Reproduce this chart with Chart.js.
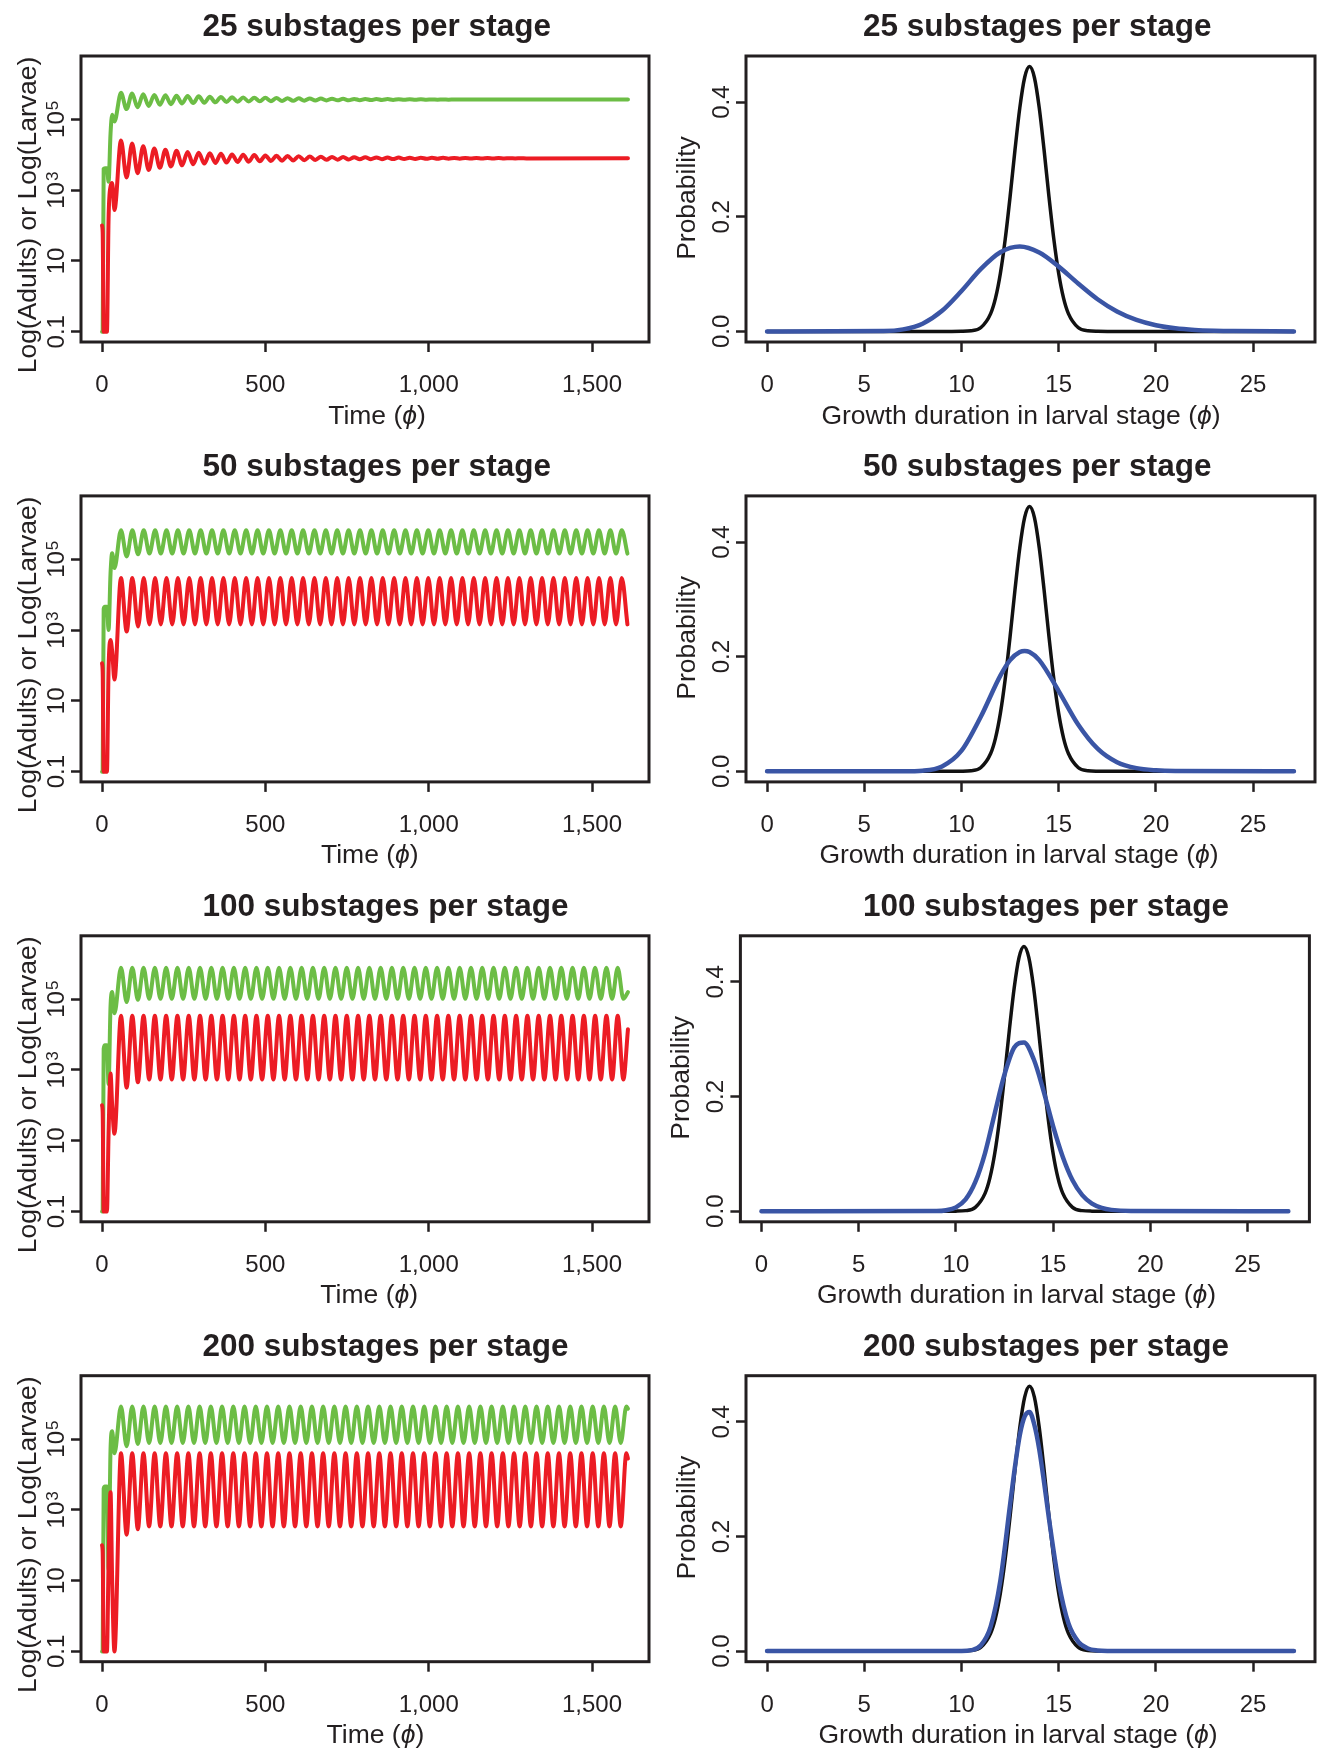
<!DOCTYPE html>
<html lang="en">
<head>
<meta charset="utf-8">
<title>Larval growth substages</title>
<script src="https://cdn.jsdelivr.net/npm/chart.js@4.4.1/dist/chart.umd.min.js"></script>
<style>
  html, body { margin: 0; padding: 0; background: #ffffff; }
  #figure { position: relative; width: 1319px; height: 1754px; overflow: hidden; background: #ffffff; }
  #figure canvas { position: absolute; }
</style>
</head>
<body>
<div id="figure"></div>
<script>
// ---------- Population dynamics: log10 of counts over time ----------
// 25 substages per stage
const time25 = [0, 2, 5, 9, 15, 20, 26, 31, 38,
  58, 75, 92, 109, 126, 143, 160, 177, 194, 211,
  228, 245, 262, 279, 296, 313, 330, 347, 364, 381,
  398, 415, 432, 449, 466, 483, 500, 517, 534, 551,
  568, 585, 602, 619, 636, 653, 670, 687, 704, 721,
  738, 755, 772, 789, 806, 823, 840, 857, 874, 891,
  908, 925, 942, 959, 976, 993, 1010, 1027, 1044, 1061,
  1078, 1095, 1112, 1129, 1146, 1163, 1180, 1197, 1214, 1231,
  1248, 1265, 1282, 1299,
  1610];
const larvae25 = [-1, -1, 3.6, 3.62, 3.62, 3.24, 4.6, 5.13, 4.94,
  5.75, 5.29, 5.73, 5.34, 5.71, 5.38, 5.69, 5.41, 5.68, 5.43,
  5.67, 5.45, 5.66, 5.46, 5.65, 5.47, 5.64, 5.48, 5.632, 5.49,
  5.625, 5.498, 5.618, 5.505, 5.612, 5.51, 5.607, 5.515, 5.602, 5.52,
  5.598, 5.524, 5.594, 5.528, 5.59, 5.532, 5.587, 5.535, 5.584, 5.538,
  5.581, 5.54, 5.578, 5.543, 5.576, 5.545, 5.574, 5.547, 5.572, 5.549,
  5.57, 5.551, 5.568, 5.553, 5.566, 5.555, 5.564, 5.556, 5.563, 5.557,
  5.562, 5.558, 5.561, 5.559, 5.561, 5.559, 5.56, 5.56, 5.56, 5.56,
  5.56, 5.56, 5.56, 5.56,
  5.56];
const adults25 = [2.0, 1.8, -1, -1, -1, 2.2, 3.1, 3.2, 2.44,
  4.40, 3.36, 4.32, 3.48, 4.24, 3.57, 4.18, 3.63, 4.14, 3.67,
  4.11, 3.70, 4.08, 3.73, 4.06, 3.75, 4.04, 3.77, 4.025, 3.78,
  4.01, 3.795, 4.0, 3.805, 3.99, 3.815, 3.98, 3.824, 3.972, 3.832,
  3.964, 3.84, 3.957, 3.846, 3.951, 3.852, 3.945, 3.857, 3.94, 3.862,
  3.936, 3.866, 3.932, 3.87, 3.928, 3.873, 3.925, 3.876, 3.922, 3.879,
  3.92, 3.881, 3.918, 3.883, 3.916, 3.885, 3.914, 3.887, 3.912, 3.889,
  3.91, 3.89, 3.909, 3.892, 3.908, 3.893, 3.906, 3.894, 3.905, 3.895,
  3.904, 3.896, 3.903, 3.897,
  3.9];

// 50 substages per stage
const time50 = [0, 2, 5, 9, 15, 20, 26, 31, 38,
  58.0, 75.4, 92.8, 110.3, 127.7, 145.1, 162.5, 179.9, 197.4, 214.8,
  232.2, 249.6, 267.0, 284.5, 301.9, 319.3, 336.7, 354.1, 371.6, 389.0,
  406.4, 423.8, 441.2, 458.7, 476.1, 493.5, 510.9, 528.3, 545.8, 563.2,
  580.6, 598.0, 615.4, 632.9, 650.3, 667.7, 685.1, 702.5, 720.0, 737.4,
  754.8, 772.2, 789.6, 807.1, 824.5, 841.9, 859.3, 876.7, 894.2, 911.6,
  929.0, 946.4, 963.8, 981.3, 998.7, 1016.1, 1033.5, 1050.9, 1068.4, 1085.8,
  1103.2, 1120.6, 1138.0, 1155.5, 1172.9, 1190.3, 1207.7, 1225.1, 1242.6, 1260.0,
  1277.4, 1294.8, 1312.2, 1329.7, 1347.1, 1364.5, 1381.9, 1399.3, 1416.8, 1434.2,
  1451.6, 1469.0, 1486.4, 1503.9, 1521.3, 1538.7, 1556.1, 1573.5, 1591.0, 1608.4];
const larvae50 = [-1, -1, 3.6, 3.66, 3.66, 3.0, 4.6, 5.17, 4.75,
  5.82, 5.08, 5.82, 5.14, 5.82, 5.16, 5.82, 5.16, 5.82, 5.16,
  5.82, 5.16, 5.82, 5.16, 5.82, 5.16, 5.82, 5.16, 5.82, 5.16,
  5.82, 5.16, 5.82, 5.16, 5.82, 5.16, 5.82, 5.16, 5.82, 5.16,
  5.82, 5.16, 5.82, 5.16, 5.82, 5.16, 5.82, 5.16, 5.82, 5.16,
  5.82, 5.16, 5.82, 5.16, 5.82, 5.16, 5.82, 5.16, 5.82, 5.16,
  5.82, 5.16, 5.82, 5.16, 5.82, 5.16, 5.82, 5.16, 5.82, 5.16,
  5.82, 5.16, 5.82, 5.16, 5.82, 5.16, 5.82, 5.16, 5.82, 5.16,
  5.82, 5.16, 5.82, 5.16, 5.82, 5.16, 5.82, 5.16, 5.82, 5.16,
  5.82, 5.16, 5.82, 5.16, 5.82, 5.16, 5.82, 5.16, 5.82, 5.16];
const adults50 = [2.06, 1.8, -1, -1, -1, 1.9, 2.72, 2.4, 1.6,
  4.47, 2.96, 4.47, 3.10, 4.47, 3.16, 4.47, 3.16, 4.47, 3.16,
  4.47, 3.16, 4.47, 3.16, 4.47, 3.16, 4.47, 3.16, 4.47, 3.16,
  4.47, 3.16, 4.47, 3.16, 4.47, 3.16, 4.47, 3.16, 4.47, 3.16,
  4.47, 3.16, 4.47, 3.16, 4.47, 3.16, 4.47, 3.16, 4.47, 3.16,
  4.47, 3.16, 4.47, 3.16, 4.47, 3.16, 4.47, 3.16, 4.47, 3.16,
  4.47, 3.16, 4.47, 3.16, 4.47, 3.16, 4.47, 3.16, 4.47, 3.16,
  4.47, 3.16, 4.47, 3.16, 4.47, 3.16, 4.47, 3.16, 4.47, 3.16,
  4.47, 3.16, 4.47, 3.16, 4.47, 3.16, 4.47, 3.16, 4.47, 3.16,
  4.47, 3.16, 4.47, 3.16, 4.47, 3.16, 4.47, 3.16, 4.47, 3.16];

// 100 substages per stage
const time100 = [0, 2, 5, 9, 15, 20, 26, 31, 38,
  58.0, 75.3, 92.6, 109.8, 127.1, 144.4, 161.7, 179.0, 196.2, 213.5,
  230.8, 248.1, 265.4, 282.6, 299.9, 317.2, 334.5, 351.8, 369.0, 386.3,
  403.6, 420.9, 438.2, 455.4, 472.7, 490.0, 507.3, 524.6, 541.8, 559.1,
  576.4, 593.7, 611.0, 628.2, 645.5, 662.8, 680.1, 697.4, 714.6, 731.9,
  749.2, 766.5, 783.8, 801.0, 818.3, 835.6, 852.9, 870.2, 887.4, 904.7,
  922.0, 939.3, 956.6, 973.8, 991.1, 1008.4, 1025.7, 1043.0, 1060.2, 1077.5,
  1094.8, 1112.1, 1129.4, 1146.6, 1163.9, 1181.2, 1198.5, 1215.8, 1233.0, 1250.3,
  1267.6, 1284.9, 1302.2, 1319.4, 1336.7, 1354.0, 1371.3, 1388.6, 1405.8, 1423.1,
  1440.4, 1457.7, 1475.0, 1492.2, 1509.5, 1526.8, 1544.1, 1561.4, 1578.6, 1595.9,
  1610];
const larvae100 = [-1, -1, 3.6, 3.7, 3.7, 2.6, 4.8, 5.2, 4.6,
  5.89, 4.92, 5.89, 4.98, 5.89, 5.01, 5.89, 5.01, 5.89, 5.01,
  5.89, 5.01, 5.89, 5.01, 5.89, 5.01, 5.89, 5.01, 5.89, 5.01,
  5.89, 5.01, 5.89, 5.01, 5.89, 5.01, 5.89, 5.01, 5.89, 5.01,
  5.89, 5.01, 5.89, 5.01, 5.89, 5.01, 5.89, 5.01, 5.89, 5.01,
  5.89, 5.01, 5.89, 5.01, 5.89, 5.01, 5.89, 5.01, 5.89, 5.01,
  5.89, 5.01, 5.89, 5.01, 5.89, 5.01, 5.89, 5.01, 5.89, 5.01,
  5.89, 5.01, 5.89, 5.01, 5.89, 5.01, 5.89, 5.01, 5.89, 5.01,
  5.89, 5.01, 5.89, 5.01, 5.89, 5.01, 5.89, 5.01, 5.89, 5.01,
  5.89, 5.01, 5.89, 5.01, 5.89, 5.01, 5.89, 5.01, 5.89, 5.01,
  5.2];
const adults100 = [2.0, 1.8, -1, -1, -1, 1.2, 2.9, 2.0, 1.2,
  4.53, 2.5, 4.53, 2.65, 4.53, 2.73, 4.53, 2.73, 4.53, 2.73,
  4.53, 2.73, 4.53, 2.73, 4.53, 2.73, 4.53, 2.73, 4.53, 2.73,
  4.53, 2.73, 4.53, 2.73, 4.53, 2.73, 4.53, 2.73, 4.53, 2.73,
  4.53, 2.73, 4.53, 2.73, 4.53, 2.73, 4.53, 2.73, 4.53, 2.73,
  4.53, 2.73, 4.53, 2.73, 4.53, 2.73, 4.53, 2.73, 4.53, 2.73,
  4.53, 2.73, 4.53, 2.73, 4.53, 2.73, 4.53, 2.73, 4.53, 2.73,
  4.53, 2.73, 4.53, 2.73, 4.53, 2.73, 4.53, 2.73, 4.53, 2.73,
  4.53, 2.73, 4.53, 2.73, 4.53, 2.73, 4.53, 2.73, 4.53, 2.73,
  4.53, 2.73, 4.53, 2.73, 4.53, 2.73, 4.53, 2.73, 4.53, 2.73,
  4.15];

// 200 substages per stage
const time200 = [0, 2, 5, 9, 15, 20, 26, 31, 38,
  58.0, 75.2, 92.4, 109.6, 126.8, 144.0, 161.1, 178.3, 195.5, 212.7,
  229.9, 247.1, 264.3, 281.5, 298.7, 315.9, 333.0, 350.2, 367.4, 384.6,
  401.8, 419.0, 436.2, 453.4, 470.6, 487.8, 504.9, 522.1, 539.3, 556.5,
  573.7, 590.9, 608.1, 625.3, 642.5, 659.7, 676.8, 694.0, 711.2, 728.4,
  745.6, 762.8, 780.0, 797.2, 814.4, 831.6, 848.7, 865.9, 883.1, 900.3,
  917.5, 934.7, 951.9, 969.1, 986.3, 1003.5, 1020.6, 1037.8, 1055.0, 1072.2,
  1089.4, 1106.6, 1123.8, 1141.0, 1158.2, 1175.4, 1192.5, 1209.7, 1226.9, 1244.1,
  1261.3, 1278.5, 1295.7, 1312.9, 1330.1, 1347.3, 1364.4, 1381.6, 1398.8, 1416.0,
  1433.2, 1450.4, 1467.6, 1484.8, 1502.0, 1519.2, 1536.3, 1553.5, 1570.7, 1587.9,
  1605.1, 1610];
const larvae200 = [-1, -1, 3.6, 3.66, 3.66, 1.3, 4.7, 5.22, 4.6,
  5.92, 4.8, 5.92, 4.86, 5.92, 4.89, 5.92, 4.89, 5.92, 4.89,
  5.92, 4.89, 5.92, 4.89, 5.92, 4.89, 5.92, 4.89, 5.92, 4.89,
  5.92, 4.89, 5.92, 4.89, 5.92, 4.89, 5.92, 4.89, 5.92, 4.89,
  5.92, 4.89, 5.92, 4.89, 5.92, 4.89, 5.92, 4.89, 5.92, 4.89,
  5.92, 4.89, 5.92, 4.89, 5.92, 4.89, 5.92, 4.89, 5.92, 4.89,
  5.92, 4.89, 5.92, 4.89, 5.92, 4.89, 5.92, 4.89, 5.92, 4.89,
  5.92, 4.89, 5.92, 4.89, 5.92, 4.89, 5.92, 4.89, 5.92, 4.89,
  5.92, 4.89, 5.92, 4.89, 5.92, 4.89, 5.92, 4.89, 5.92, 4.89,
  5.92, 4.89, 5.92, 4.89, 5.92, 4.89, 5.92, 4.89, 5.92, 4.89,
  5.92, 5.86];
const adults200 = [2.0, 1.8, -1, -1, -1, 1.5, 3.5, 1.0, -1,
  4.60, 2.3, 4.60, 2.45, 4.60, 2.53, 4.60, 2.53, 4.60, 2.53,
  4.60, 2.53, 4.60, 2.53, 4.60, 2.53, 4.60, 2.53, 4.60, 2.53,
  4.60, 2.53, 4.60, 2.53, 4.60, 2.53, 4.60, 2.53, 4.60, 2.53,
  4.60, 2.53, 4.60, 2.53, 4.60, 2.53, 4.60, 2.53, 4.60, 2.53,
  4.60, 2.53, 4.60, 2.53, 4.60, 2.53, 4.60, 2.53, 4.60, 2.53,
  4.60, 2.53, 4.60, 2.53, 4.60, 2.53, 4.60, 2.53, 4.60, 2.53,
  4.60, 2.53, 4.60, 2.53, 4.60, 2.53, 4.60, 2.53, 4.60, 2.53,
  4.60, 2.53, 4.60, 2.53, 4.60, 2.53, 4.60, 2.53, 4.60, 2.53,
  4.60, 2.53, 4.60, 2.53, 4.60, 2.53, 4.60, 2.53, 4.60, 2.53,
  4.60, 4.45];

// ---------- Growth duration distributions ----------
// target distribution (black), identical in every panel
const targetX = [0, 9.5, 10, 10.5, 11, 11.5, 11.75, 12, 12.25, 12.5, 12.75, 13, 13.25, 13.5,
  13.75, 14, 14.25, 14.5, 14.75, 15, 15.25, 15.5, 16, 16.5, 17, 17.5, 27.1];
const targetP = [0, 0, 0.0001, 0.001, 0.0067, 0.031, 0.058, 0.101, 0.161, 0.235, 0.316, 0.390, 0.443, 0.462,
  0.443, 0.390, 0.316, 0.235, 0.161, 0.101, 0.058, 0.031, 0.0067, 0.001, 0.0001, 0, 0];

// model distributions (blue)
const dur25X = [0, 6, 7, 8, 9, 10, 11, 12, 13, 14, 15, 16, 17, 18, 19, 20, 21, 22, 23, 24, 27.1];
const dur25P = [0, 0.0006, 0.0035, 0.0135, 0.0359, 0.0705, 0.109, 0.138, 0.148, 0.1375, 0.113, 0.0835,
  0.0561, 0.0347, 0.020, 0.0108, 0.0054, 0.0026, 0.0012, 0.0005, 0];
const dur50X = [0, 7, 8, 9, 10, 11, 12, 12.5, 13, 13.25, 13.5, 14, 15, 16, 17, 18, 19, 20, 21, 27.1];
const dur50P = [0, 0.0001, 0.0011, 0.0085, 0.036, 0.0957, 0.167, 0.194, 0.208, 0.210, 0.208, 0.194, 0.140,
  0.0817, 0.0395, 0.0159, 0.0055, 0.0017, 0.0005, 0];
const dur100X = [0, 9, 9.5, 10, 10.5, 11, 11.5, 12, 12.5, 13, 13.5, 14, 14.5, 15, 15.5, 16, 16.5, 17, 17.5, 18, 19, 27.1];
const dur100P = [0, 0.0003, 0.0017, 0.0067, 0.0205, 0.051, 0.1015, 0.171, 0.2385, 0.2855, 0.2945, 0.2655, 0.211,
  0.1485, 0.0947, 0.054, 0.028, 0.0132, 0.0058, 0.0023, 0.0003, 0];
const dur200X = [0, 10, 10.5, 11, 11.5, 12, 12.5, 12.75, 13, 13.25, 13.5, 13.75, 14, 14.25, 14.5, 15, 15.5, 16, 16.5, 17, 17.5, 27.1];
const dur200P = [0, 0.0002, 0.0016, 0.0101, 0.0426, 0.123, 0.2555, 0.3215, 0.377, 0.4095, 0.417, 0.3945, 0.352, 0.294,
  0.231, 0.12, 0.0485, 0.0167, 0.0046, 0.001, 0.0002, 0];

// ---------- Axis ticks and labels ----------
const timeTicks = [0, 500, 1000, 1500];
const timeTickLabels = ['0', '500', '1,000', '1,500'];
const logTicks = [-1, 1, 3, 5];
const logTickLabels = ['0.1', '10', '10^3', '10^5'];
const durTicks = [0, 5, 10, 15, 20, 25];
const durTickLabels = ['0', '5', '10', '15', '20', '25'];
const probTicks = [0, 0.2, 0.4];
const probTickLabels = ['0.0', '0.2', '0.4'];

const substages = [25, 50, 100, 200];
const timeAxisTitle = ['Time (', '\u03D5', ')'];
const durAxisTitle = ['Growth duration in larval stage (', '\u03D5', ')'];
const popAxisTitle = ['Log(Adults) or Log(Larvae)'];
const probAxisTitle = ['Probability'];

// ---------- Styling ----------
const INK = '#231f20';
const GREEN = '#6cbd45';
const RED = '#ec1c24';
const BLUE = '#3a55a5';
const BLACK = '#111111';
const FONT = '"Liberation Sans", Arial, Helvetica, sans-serif';
const ROW = 439.9;

function pts(xs, ys) { return xs.map((x, i) => ({ x: x, y: ys[i] })); }

// text made of runs; odd-indexed runs are italic symbols
function drawRuns(ctx, runs, x, y, rotated, size) {
  ctx.save();
  ctx.translate(x, y);
  if (rotated) ctx.rotate(-Math.PI / 2);
  const fonts = runs.map((_, i) => (i % 2 ? 'italic ' : '') + size + 'px ' + FONT);
  const widths = runs.map((r, i) => { ctx.font = fonts[i]; return ctx.measureText(r).width; });
  let cx = -widths.reduce((a, b) => a + b, 0) / 2;
  ctx.textAlign = 'left';
  ctx.textBaseline = 'alphabetic';
  runs.forEach((r, i) => { ctx.font = fonts[i]; ctx.fillText(r, cx, 0); cx += widths[i]; });
  ctx.restore();
}

// vertical tick label, optionally with a power of ten
function drawTickLabel(ctx, label, x, y) {
  const parts = label.split('^');
  ctx.save();
  ctx.translate(x, y);
  ctx.rotate(-Math.PI / 2);
  ctx.textAlign = 'left';
  ctx.textBaseline = 'alphabetic';
  ctx.font = '24px ' + FONT;
  const wb = ctx.measureText(parts[0]).width;
  let ws = 0;
  if (parts[1]) { ctx.font = '17px ' + FONT; ws = ctx.measureText(parts[1]).width + 1; }
  const start = -(wb + ws) / 2;
  ctx.font = '24px ' + FONT;
  ctx.fillText(parts[0], start, 8.6);
  if (parts[1]) { ctx.font = '17px ' + FONT; ctx.fillText(parts[1], start + wb + 1, 2.5); }
  ctx.restore();
}

const panelDecor = {
  id: 'panelDecor',
  afterDraw(chart, args, o) {
    const ctx = chart.ctx;
    const a = chart.chartArea;
    ctx.save();
    ctx.strokeStyle = INK;
    ctx.lineWidth = 3;
    ctx.strokeRect(a.left, a.top, a.right - a.left, a.bottom - a.top);
    ctx.fillStyle = INK;
    ctx.font = 'bold 31.5px ' + FONT;
    ctx.textAlign = 'left';
    ctx.textBaseline = 'alphabetic';
    ctx.fillText(o.title, o.titleX, o.titleY);
    const ys = chart.scales.y;
    o.yTicks.forEach((v, i) => drawTickLabel(ctx, o.yLabels[i], o.yLabelX, ys.getPixelForValue(v)));
    drawRuns(ctx, o.xTitle, o.xTitleX, o.xTitleY, false, 26.5);
    drawRuns(ctx, o.yTitle, o.yTitleX, o.yTitleY, true, 26.5);
    ctx.restore();
  }
};

const fig = document.getElementById('figure');

function axisCommon() {
  return {
    grid: { display: true, drawOnChartArea: false, drawTicks: true, tickLength: 10, tickWidth: 2.5, tickColor: INK, color: INK },
    border: { display: false }
  };
}

const popSeries = {
  25: [time25, larvae25, adults25],
  50: [time50, larvae50, adults50],
  100: [time100, larvae100, adults100],
  200: [time200, larvae200, adults200]
};
const durSeries = {
  25: [dur25X, dur25P],
  50: [dur50X, dur50P],
  100: [dur100X, dur100P],
  200: [dur200X, dur200P]
};

function buildPanel(row, col) {
  const off = row * ROW;
  const cell = { x: col ? 660 : 0, y: Math.round(off), w: col ? 659 : 660 };
  cell.h = row < 3 ? 440 : 1754 - cell.y;
  const shift = (col === 1 && row === 2) ? -5.6 : 0;
  const g = col === 0
    ? { left: 81, right: 649, titleX: 202.5, yLabelX: 55, yTitleX: 36, yTitleY: 215 + off,
        xTitleX: [377, 369.8, 369.2, 375.4][row] }
    : { left: 746 + shift, right: 1315 + shift, titleX: 863, yLabelX: 720 + shift, yTitleX: 695 + shift,
        yTitleY: 198 + off, xTitleX: [1021, 1019, 1016.5, 1018][row] };
  g.top = 56 + off; g.bottom = 342 + off; g.titleY = 36 + off; g.xTitleY = 423.5 + off;

  const L = g.left - cell.x, R = g.right - cell.x, T = g.top - cell.y, B = g.bottom - cell.y;

  const canvas = document.createElement('canvas');
  canvas.width = cell.w; canvas.height = cell.h;
  canvas.style.left = cell.x + 'px'; canvas.style.top = cell.y + 'px';
  canvas.style.width = cell.w + 'px'; canvas.style.height = cell.h + 'px';
  fig.appendChild(canvas);

  const n = substages[row];
  const lineStyle = { pointRadius: 0, fill: false, cubicInterpolationMode: 'monotone',
                      borderCapStyle: 'round', borderJoinStyle: 'round' };
  let datasets, xRange, yRange, xTicks, xLabels, yTicks, yLabels, xTitle, yTitle;
  if (col === 0) {
    const [t, larvae, adults] = popSeries[n];
    datasets = [
      Object.assign({ label: 'Adults', data: pts(t, adults), borderColor: RED, borderWidth: 4 }, lineStyle),
      Object.assign({ label: 'Larvae', data: pts(t, larvae), borderColor: GREEN, borderWidth: 4 }, lineStyle)
    ];
    xRange = [-64.4, 1674.4]; yRange = [-1.29, 6.79];
    xTicks = timeTicks; xLabels = timeTickLabels; yTicks = logTicks; yLabels = logTickLabels;
    xTitle = timeAxisTitle; yTitle = popAxisTitle;
  } else {
    const [dx, dp] = durSeries[n];
    datasets = [
      Object.assign({ label: 'Model', data: pts(dx, dp), borderColor: BLUE, borderWidth: 4.5 }, lineStyle),
      Object.assign({ label: 'Target', data: pts(targetX, targetP), borderColor: BLACK, borderWidth: 3.5 }, lineStyle)
    ];
    xRange = [-1.084, 28.184]; yRange = [-0.0185, 0.4805];
    xTicks = durTicks; xLabels = durTickLabels; yTicks = probTicks; yLabels = probTickLabels;
    xTitle = durAxisTitle; yTitle = probAxisTitle;
  }

  new Chart(canvas, {
    type: 'line',
    data: { datasets: datasets },
    options: {
      responsive: false, animation: false, devicePixelRatio: 1, events: [],
      layout: { padding: { left: 0, top: T, right: cell.w - R, bottom: 0 } },
      plugins: {
        legend: { display: false }, tooltip: { enabled: false }, title: { display: false },
        panelDecor: {
          title: n + ' substages per stage',
          titleX: g.titleX - cell.x, titleY: g.titleY - cell.y,
          yTicks: yTicks, yLabels: yLabels, yLabelX: g.yLabelX - cell.x,
          xTitle: xTitle, xTitleX: g.xTitleX - cell.x, xTitleY: g.xTitleY - cell.y,
          yTitle: yTitle, yTitleX: g.yTitleX - cell.x, yTitleY: g.yTitleY - cell.y
        }
      },
      scales: {
        x: Object.assign({
          type: 'linear', position: 'bottom', min: xRange[0], max: xRange[1],
          afterBuildTicks: s => { s.ticks = xTicks.map(v => ({ value: v })); },
          afterFit: s => { s.height = cell.h - B; },
          ticks: { callback: (v, i) => xLabels[i], font: { family: FONT, size: 24 }, color: INK,
                   padding: 19, maxRotation: 0, minRotation: 0, autoSkip: false }
        }, axisCommon()),
        y: Object.assign({
          type: 'linear', position: 'left', min: yRange[0], max: yRange[1],
          afterBuildTicks: s => { s.ticks = yTicks.map(v => ({ value: v })); },
          afterFit: s => { s.width = L; },
          ticks: { display: false }
        }, axisCommon())
      }
    },
    plugins: [panelDecor]
  });
}

for (let r = 0; r < 4; r++) { buildPanel(r, 0); buildPanel(r, 1); }
</script>
</body>
</html>
